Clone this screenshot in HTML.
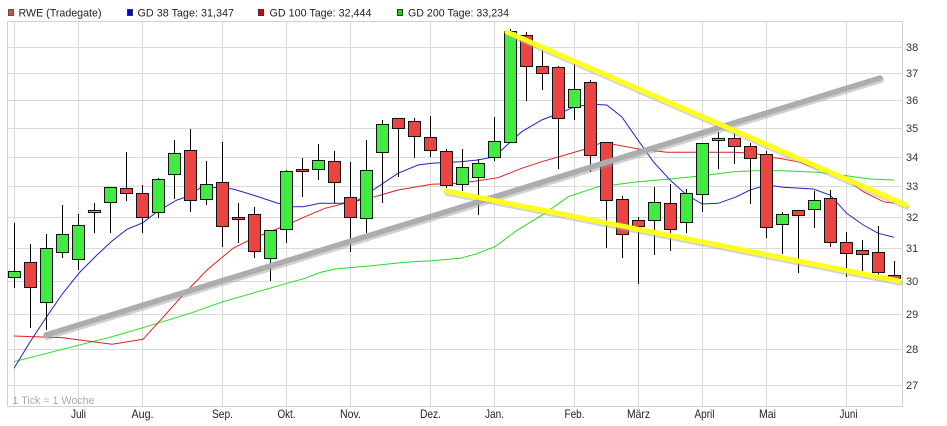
<!DOCTYPE html>
<html><head><meta charset="utf-8"><style>
html,body{margin:0;padding:0;background:#fff;}
svg{display:block;}
text{font-family:"Liberation Sans",Arial,sans-serif;}
</style></head><body>
<svg width="947" height="426" viewBox="0 0 947 426" xmlns="http://www.w3.org/2000/svg">
<rect width="947" height="426" fill="#fff"/>
<g font-size="11" fill="#222">
<rect x="8.5" y="9.5" width="5" height="6" fill="#e84444" stroke="#555"/>
<text x="18.5" y="16.5" textLength="83" lengthAdjust="spacingAndGlyphs">RWE (Tradegate)</text>
<rect x="127.5" y="9.5" width="5" height="6" fill="#0000dd" stroke="#333"/>
<text x="137.5" y="16.5" textLength="96.5" lengthAdjust="spacingAndGlyphs">GD 38 Tage: 31,347</text>
<rect x="258.5" y="9.5" width="5" height="6" fill="#dd0000" stroke="#333"/>
<text x="269.5" y="16.5" textLength="102" lengthAdjust="spacingAndGlyphs">GD 100 Tage: 32,444</text>
<rect x="397.5" y="9.5" width="5" height="6" fill="#11dd11" stroke="#333"/>
<text x="408" y="16.5" textLength="101" lengthAdjust="spacingAndGlyphs">GD 200 Tage: 33,234</text>
</g>
<path shape-rendering="crispEdges" stroke="#dadada" fill="none" d="M7 47.5H903M7 73.5H903M7 100.5H903M7 128.5H903M7 157.5H903M7 186.5H903M7 217.5H903M7 248.5H903M7 281.5H903M7 314.5H903M7 349.5H903M7 385.5H903M14.5 21V407M78.5 21V407M142.5 21V407M222.5 21V407M286.5 21V407M350.5 21V407M430.5 21V407M494.5 21V407M574.5 21V407M638.5 21V407M702.5 21V407M766.5 21V407M846.5 21V407"/>
<rect x="7.5" y="21.5" width="895" height="385" fill="none" stroke="#d0d0d0" shape-rendering="crispEdges"/>
<polyline fill="none" stroke="#22dd22" points="14,361.7 112,336.7 143,327.7 190,313.3 223,301.7 287,283.3 305,278.3 320,272.5 335,269 371.7,265.7 405,262.3 431.7,260.7 460,258.3 475,254.3 495,246.7 515,231.7 545,213.3 568.3,196.7 598.3,186.7 612.7,185 638.7,181.7 670,179 702.3,175.7 733.3,171.7 755,170.7 783.3,170.7 816.7,172.3 846.7,175.7 870,179 894,180"/>
<polyline fill="none" stroke="#e02020" points="14,336 63,337.7 112,344.3 143,339.3 160,320.7 183,295 207,270 233,248.3 253,238.3 287,225 305,216.7 325,208.3 345,203.3 358,200.7 375,196.7 398,190 431.7,184.3 460,183.3 478,180.7 498,177.7 521.7,168.3 541.7,161.7 565,155 588,148.3 600,143.3 613,144.3 638.7,149 666.7,152.3 702.3,152.3 733,152.3 755,153.3 766.7,156.7 783.3,159 800,162.3 846.7,180 863.3,191.7 883.3,201.7 894,203.3"/>
<polyline fill="none" stroke="#2222cc" points="14,368.3 30,342 46.7,316.7 63,293 80,272 97,255 112,241 127,229.3 143,222.7 157,211.7 177,200 187,196.7 200,188 217,187.5 233,189 253,195 277,203 293,206.7 303,206.7 320,203.3 341.7,203.3 358,200 373,190 398,173.3 418,165 431.7,163.3 460,161.7 478,160 495,156.7 501.7,150 521.7,131.7 541.7,120 561.7,112.3 575,106.7 591.7,104.3 606.7,105 621.7,116.7 636.7,138.3 653.3,161.7 670,180 686.7,195 702.3,204 718.3,203.3 736.7,196.7 750,190 766.7,185 783.3,187.3 813.3,189 830,195 846.7,213.3 863.3,225 878.3,233.3 894,237.3"/>
<path shape-rendering="crispEdges" stroke="#000" fill="none" d="M14.5 223V288M30.5 244V328M46.5 234V330M62.5 205V258M78.5 214V270M94.5 203V233M110.5 187V233M126.5 152V201M142.5 185V233M158.5 178V218M174.5 140V199M190.5 129V212M206.5 161V205M222.5 142V247M238.5 203V243M254.5 207V258M270.5 230V281M286.5 170V243M302.5 158V197M318.5 144V180M334.5 151V203M350.5 162V252M366.5 140V233M382.5 120V203M398.5 118V177M414.5 118V158M430.5 116V157M446.5 149V188M462.5 149V191M478.5 159V215M494.5 117V161M510.5 29V142M526.5 32V101M542.5 50V90M558.5 66V169M574.5 64V120M590.5 80V172M606.5 142V248M622.5 196V258M638.5 217V284M654.5 187V255M670.5 184V251M686.5 189V233M702.5 143V212M718.5 132V169M734.5 133V164M750.5 143V204M766.5 151V238M782.5 212V254M798.5 210V273M814.5 191V228M830.5 190V247M846.5 232V277M862.5 240V271M878.5 226V275M894.5 261V279"/>
<path shape-rendering="crispEdges" stroke="#111" fill="#40ec40" d="M8.5 271.5h12v6h-12zM40.5 248.5h12v54h-12zM56.5 234.5h12v18h-12zM72.5 225.5h12v34h-12zM88.5 210.5h12v2h-12zM104.5 187.5h12v15h-12zM152.5 179.5h12v33h-12zM168.5 153.5h12v21h-12zM200.5 184.5h12v15h-12zM264.5 230.5h12v28h-12zM280.5 171.5h12v58h-12zM312.5 160.5h12v9h-12zM360.5 170.5h12v48h-12zM376.5 124.5h12v28h-12zM456.5 167.5h12v17h-12zM472.5 163.5h12v14h-12zM488.5 141.5h12v16h-12zM504.5 31.5h12v111h-12zM568.5 89.5h12v18h-12zM648.5 202.5h12v18h-12zM680.5 193.5h12v29h-12zM696.5 143.5h12v51h-12zM712.5 138.5h12v2h-12zM776.5 214.5h12v10h-12zM808.5 200.5h12v9h-12z"/>
<path shape-rendering="crispEdges" stroke="#111" fill="#ec4343" d="M24.5 262.5h12v25h-12zM120.5 188.5h12v5h-12zM136.5 193.5h12v24h-12zM184.5 150.5h12v50h-12zM216.5 182.5h12v44h-12zM232.5 217.5h12v2h-12zM248.5 214.5h12v37h-12zM296.5 169.5h12v2h-12zM328.5 161.5h12v21h-12zM344.5 197.5h12v20h-12zM392.5 118.5h12v10h-12zM408.5 121.5h12v15h-12zM424.5 137.5h12v13h-12zM440.5 151.5h12v34h-12zM520.5 35.5h12v31h-12zM536.5 66.5h12v7h-12zM552.5 67.5h12v51h-12zM584.5 82.5h12v73h-12zM600.5 142.5h12v58h-12zM616.5 199.5h12v35h-12zM632.5 220.5h12v6h-12zM664.5 203.5h12v26h-12zM728.5 138.5h12v8h-12zM744.5 146.5h12v12h-12zM760.5 154.5h12v73h-12zM792.5 210.5h12v5h-12zM824.5 198.5h12v44h-12zM840.5 242.5h12v11h-12zM856.5 250.5h12v4h-12zM872.5 252.5h12v20h-12zM888.5 275.5h12v3h-12z"/>
<g stroke-linecap="round" fill="none">
<path d="M47 337L881 80" stroke="#999" stroke-opacity="0.45" stroke-width="6"/>
<path d="M46 335L880 78" stroke="#adadad" stroke-width="5.5"/>
<path d="M508 34L907 207M447 193L900 283" stroke="#aaa" stroke-opacity="0.5" stroke-width="5.5"/>
<path d="M507 32L906 205M446 191L899 281" stroke="#ffff1a" stroke-width="5"/>
</g>
<g font-size="11" fill="#333">
<text x="906" y="51">38</text><text x="906" y="77">37</text><text x="906" y="104">36</text><text x="906" y="132">35</text><text x="906" y="161">34</text><text x="906" y="190">33</text><text x="906" y="221">32</text><text x="906" y="252">31</text><text x="906" y="285">30</text><text x="906" y="318">29</text><text x="906" y="353">28</text><text x="906" y="389">27</text>
</g>
<text x="12.5" y="404" font-size="11" fill="#aaa" textLength="82" lengthAdjust="spacingAndGlyphs">1 Tick = 1 Woche</text>
<g font-size="12" fill="#222" text-anchor="middle" lengthAdjust="spacingAndGlyphs">
<text x="78.5" y="418" textLength="15" lengthAdjust="spacingAndGlyphs">Juli</text><text x="142.5" y="418" textLength="22" lengthAdjust="spacingAndGlyphs">Aug.</text><text x="222.5" y="418" textLength="21" lengthAdjust="spacingAndGlyphs">Sep.</text><text x="286.5" y="418" textLength="18" lengthAdjust="spacingAndGlyphs">Okt.</text><text x="350.5" y="418" textLength="21" lengthAdjust="spacingAndGlyphs">Nov.</text><text x="430.5" y="418" textLength="21" lengthAdjust="spacingAndGlyphs">Dez.</text><text x="494.5" y="418" textLength="19" lengthAdjust="spacingAndGlyphs">Jan.</text><text x="574.5" y="418" textLength="20" lengthAdjust="spacingAndGlyphs">Feb.</text><text x="638.5" y="418" textLength="23" lengthAdjust="spacingAndGlyphs">März</text><text x="704.5" y="418" textLength="20" lengthAdjust="spacingAndGlyphs">April</text><text x="767.5" y="418" textLength="17" lengthAdjust="spacingAndGlyphs">Mai</text><text x="848.5" y="418" textLength="18" lengthAdjust="spacingAndGlyphs">Juni</text>
</g>
</svg>
</body></html>
